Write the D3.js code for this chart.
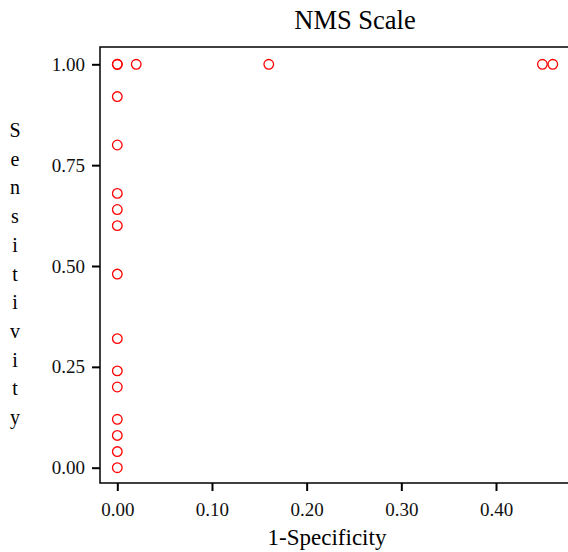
<!DOCTYPE html>
<html>
<head>
<meta charset="utf-8">
<script src="https://cdn.jsdelivr.net/npm/d3@7"></script>
<style>
  body { margin: 0; background: #fff; }
  .tick line { stroke: #000; stroke-width: 2; }
  .domain { display: none; }
  .frame { stroke: #000; stroke-width: 1.5; fill: none; }
  .pt { fill: none; stroke: #ff0000; stroke-width: 1.3; }
</style>
</head>
<body>
<svg width="568" height="552"></svg>
<script>
// ROC points
const fpr  = [0, 0, 0, 0, 0, 0, 0, 0, 0, 0, 0, 0, 0, 0, 0, 0.02, 0.16, 0.449, 0.46];
const sens = [0, 0.04, 0.08, 0.12, 0.20, 0.24, 0.32, 0.48, 0.60, 0.64, 0.68, 0.80, 0.92, 1, 1, 1, 1, 1, 1];
const xTicks = [0, 0.1, 0.2, 0.3, 0.4];
const yTicks = [0, 0.25, 0.5, 0.75, 1];
const yTitle = "Sensitivity";

const serif = "'Liberation Serif', 'Times New Roman', serif";
const svg = d3.select("svg");
const plotLeft = 100, plotTop = 47, plotBottom = 483;

const x = d3.scaleLinear().domain([0, 0.4]).range([117.3, 496]);
const y = d3.scaleLinear().domain([0, 1]).range([467.7, 64.3]);

// frame (left, top, bottom; right runs off the page)
svg.append("path")
    .attr("class", "frame")
    .attr("d", `M568,${plotTop}H${plotLeft}V${plotBottom}H568`);

svg.append("g")
    .attr("transform", `translate(0,${plotBottom})`)
    .call(d3.axisBottom(x).tickValues(xTicks).tickFormat(d3.format(".2f")).tickSize(8).tickPadding(8))
    .selectAll(".tick text").attr("dy", "0.9em");

svg.append("g")
    .attr("transform", `translate(${plotLeft},0)`)
    .call(d3.axisLeft(y).tickValues(yTicks).tickFormat(d3.format(".2f")).tickSize(8).tickPadding(7));

svg.selectAll(".tick text")
    .style("font-family", serif)
    .style("font-size", "19px")
    .style("fill", "#111");

svg.append("g").selectAll("circle")
    .data(fpr)
    .join("circle")
    .attr("class", "pt")
    .attr("cx", d => x(d))
    .attr("cy", (d, i) => y(sens[i]))
    .attr("r", 4.8);

svg.append("text")
    .attr("x", 355).attr("y", 29)
    .attr("text-anchor", "middle")
    .style("font-family", serif)
    .style("font-size", "26.5px")
    .text("NMS Scale");

svg.append("text")
    .attr("x", 327).attr("y", 545)
    .attr("text-anchor", "middle")
    .style("font-family", serif)
    .style("font-size", "23px")
    .text("1-Specificity");

// stacked y title
svg.append("g").selectAll("text")
    .data(yTitle.split(""))
    .join("text")
    .attr("x", 15)
    .attr("y", (d, i) => 137 + i * 28.7)
    .attr("text-anchor", "middle")
    .style("font-family", serif)
    .style("font-size", "20px")
    .text(d => d);
</script>
</body>
</html>
